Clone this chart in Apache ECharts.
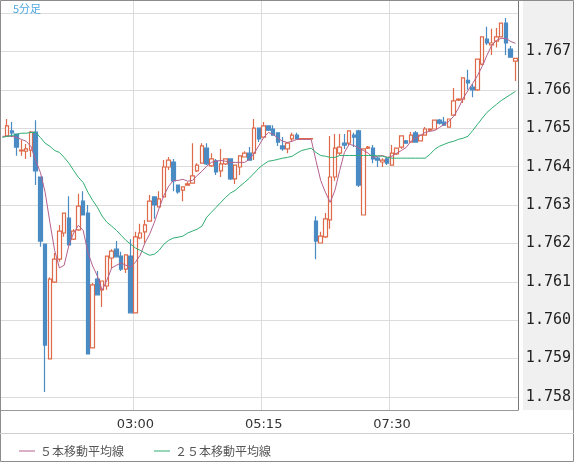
<!DOCTYPE html>
<html><head><meta charset="utf-8">
<script src="https://cdn.jsdelivr.net/npm/echarts@6/dist/echarts.min.js"></script>
<style>html,body{margin:0;padding:0;background:#fff}#c{width:574px;height:462px}</style>
</head><body><div id="c"></div>
<script>
const opens=[null,1.7648,1.76493,1.76485,1.76441,1.7644,1.76443,1.7649,1.76373,1.76198,1.75899,1.76099,1.76159,1.76227,1.76266,1.76211,1.76235,1.7631,1.76279,1.75928,1.76107,1.76079,1.76089,1.76162,1.76185,1.76167,1.76133,1.76167,1.76019,1.76214,1.7623,1.76258,1.76321,1.76295,1.76321,1.76399,1.76412,1.76352,1.76339,1.76352,1.76357,1.76389,1.76409,1.76448,1.76402,1.76415,1.76389,1.76407,1.7642,1.76368,1.76399,1.76425,1.76435,1.76435,1.765,1.76477,1.76506,1.76498,1.76488,1.76454,1.76446,1.76472,1.76482,1.76472,1.76472,1.76472,1.76258,1.76201,1.76217,1.76261,1.76373,1.76435,1.76461,1.76461,1.76482,1.76493,1.76274,1.76448,1.76448,1.76422,1.76412,1.7642,1.76404,1.76433,1.76451,1.76467,1.76464,1.76488,1.76467,1.76482,1.76495,1.76498,1.76521,1.76516,1.76503,1.76534,1.76573,1.76576,1.76625,1.76607,1.766,1.76667,1.76732,1.76717,1.76727,1.76738,1.76774,1.76706,1.76675];
const closes=[null,1.76506,1.76488,1.76451,1.76443,1.76446,1.7649,1.76389,1.76206,1.75935,1.76107,1.76159,1.76232,1.76279,1.76196,1.76232,1.76297,1.76274,1.75912,1.76092,1.76066,1.76102,1.76167,1.7618,1.76165,1.76133,1.7617,1.76019,1.76217,1.76227,1.76248,1.7631,1.763,1.76316,1.76399,1.76417,1.76363,1.76334,1.76347,1.76355,1.76376,1.76404,1.76454,1.76407,1.7642,1.76386,1.76407,1.7642,1.76368,1.76404,1.76428,1.76435,1.76417,1.765,1.76472,1.76506,1.76495,1.76482,1.76464,1.76446,1.76461,1.76482,1.76472,1.76473,1.76473,1.76473,1.76206,1.76219,1.76264,1.76373,1.76448,1.76451,1.76456,1.76493,1.76477,1.76352,1.76446,1.76451,1.7642,1.76417,1.76417,1.76409,1.76435,1.76448,1.7648,1.76461,1.76482,1.76464,1.76482,1.76498,1.76498,1.76521,1.76513,1.76508,1.76524,1.76571,1.76576,1.76631,1.76618,1.766,1.7668,1.76738,1.76722,1.76722,1.76738,1.76774,1.76722,1.76685,1.76682];
const lows=[null,1.7648,1.76477,1.76428,1.76428,1.7642,1.76425,1.76352,1.76191,1.75813,1.75899,1.76097,1.76152,1.76217,1.76196,1.76209,1.76232,1.76274,1.75912,1.75928,1.76066,1.76034,1.76079,1.76136,1.76165,1.76128,1.76123,1.76019,1.76019,1.76211,1.76201,1.76258,1.76264,1.76295,1.76321,1.76391,1.76336,1.76329,1.7631,1.7635,1.76357,1.76386,1.76409,1.76404,1.76399,1.76378,1.76373,1.76404,1.76365,1.76355,1.76378,1.76425,1.76415,1.76417,1.76464,1.76477,1.76493,1.76482,1.76454,1.76441,1.76435,1.76464,1.76472,1.76472,1.76472,1.76472,1.76159,1.76201,1.76214,1.76238,1.76363,1.7643,1.76446,1.76456,1.76451,1.76347,1.76274,1.76446,1.76409,1.76399,1.76399,1.76404,1.76404,1.7643,1.76446,1.76461,1.76464,1.76464,1.76467,1.76482,1.76493,1.76498,1.7651,1.76508,1.76503,1.76534,1.76571,1.76566,1.766,1.76581,1.76597,1.76664,1.76717,1.76691,1.7671,1.76738,1.76691,1.76685,1.76623];
const highs=[null,1.76524,1.76516,1.76485,1.76469,1.76459,1.76493,1.76521,1.76373,1.76198,1.76112,1.76175,1.76248,1.76279,1.76323,1.76237,1.76329,1.76336,1.763,1.76097,1.76128,1.76102,1.76167,1.76185,1.76206,1.76178,1.7617,1.76211,1.7623,1.76251,1.76261,1.76326,1.76321,1.76336,1.76417,1.76425,1.7642,1.76352,1.76347,1.7636,1.76461,1.76409,1.76461,1.76461,1.76435,1.7642,1.76446,1.7642,1.7642,1.76404,1.76428,1.7644,1.76451,1.76524,1.765,1.76516,1.76508,1.76508,1.76488,1.76477,1.76464,1.76488,1.76488,1.76473,1.76473,1.76473,1.76271,1.7623,1.76279,1.7648,1.76485,1.76485,1.76485,1.76493,1.76488,1.76496,1.76446,1.76454,1.76456,1.76425,1.76422,1.76425,1.76456,1.76448,1.76482,1.76469,1.7649,1.76493,1.76482,1.76503,1.765,1.76521,1.76524,1.76529,1.76524,1.76605,1.76578,1.76631,1.76652,1.76615,1.7668,1.76738,1.76764,1.76759,1.76761,1.76774,1.76787,1.76714,1.76682];
const ma5=[1.76479,1.76479,1.76479,1.76476,1.76471,1.76466,1.76453,1.76416,1.76385,1.76333,1.76255,1.76182,1.76136,1.76143,1.76195,1.76227,1.76247,1.76234,1.76177,1.76141,1.76115,1.76078,1.76104,1.76136,1.76143,1.76149,1.76143,1.76138,1.76151,1.76169,1.76201,1.76224,1.76255,1.76292,1.76325,1.76349,1.76364,1.76364,1.76367,1.76362,1.76364,1.76377,1.76388,1.76401,1.76411,1.76414,1.76416,1.76414,1.76411,1.76411,1.76411,1.76411,1.76419,1.76435,1.76455,1.76476,1.76489,1.76484,1.76474,1.76466,1.76463,1.76466,1.76471,1.76471,1.76471,1.76471,1.76416,1.76364,1.76333,1.76307,1.76338,1.7639,1.76437,1.76458,1.76455,1.76448,1.76442,1.76435,1.76424,1.76427,1.76429,1.76424,1.76427,1.76435,1.76442,1.7645,1.76466,1.76474,1.76481,1.76489,1.76492,1.76494,1.76502,1.7651,1.76518,1.76531,1.76552,1.76578,1.76598,1.76617,1.76637,1.76661,1.7669,1.76716,1.76729,1.76734,1.76734,1.76726,1.76721];
const ma25=[1.76476,1.76479,1.76481,1.76484,1.76487,1.76487,1.76489,1.76489,1.76476,1.76461,1.76453,1.76442,1.76437,1.76424,1.76409,1.7639,1.76372,1.76359,1.76333,1.76312,1.76294,1.76271,1.76255,1.76245,1.76234,1.76221,1.76208,1.76198,1.76188,1.76182,1.76175,1.76169,1.76172,1.76182,1.76198,1.76208,1.76214,1.76216,1.76219,1.76227,1.76232,1.76237,1.76245,1.76268,1.76281,1.76294,1.76307,1.7632,1.76331,1.76338,1.76349,1.76359,1.7637,1.76383,1.76396,1.76406,1.76414,1.76416,1.76419,1.76422,1.76424,1.76427,1.76435,1.76442,1.76445,1.76448,1.76437,1.76429,1.76427,1.76424,1.76424,1.76429,1.76429,1.76429,1.76429,1.76429,1.76429,1.76429,1.76429,1.76428,1.76427,1.76424,1.76422,1.76422,1.76422,1.76422,1.76422,1.76422,1.76422,1.76422,1.76432,1.76445,1.76453,1.76458,1.76463,1.76466,1.76471,1.76474,1.76479,1.76494,1.7651,1.76526,1.76541,1.76552,1.76562,1.76572,1.7658,1.76588,1.76596];
const startTime='00:40';
const tickStart=28, tickStep=27;
const yTicks=[1.758,1.759,1.760,1.761,1.762,1.763,1.764,1.765,1.766,1.767,1.768];
const yLabels=[1.758,1.759,1.760,1.761,1.762,1.763,1.764,1.765,1.766,1.767];

const cats=opens.map((_,i)=>{const m=40+5*i;const h=Math.floor(m/60),mm=m%60;return String(h).padStart(2,'0')+':'+String(mm).padStart(2,'0');});
const candle=opens.map((o,i)=>o==null?'-':[o,closes[i],lows[i],highs[i]]);
const showTick=(i)=>i>=tickStart&&(i-tickStart)%tickStep===0;

const chart=echarts.init(document.getElementById('c'));
chart.setOption({
  animation:false,backgroundColor:'#fff',
  graphic:[
    {type:'rect',z:-1,shape:{x:523,y:0,width:51,height:410},style:{fill:'#f0f0f0'}},
    {type:'rect',z:100,shape:{x:0.5,y:0.5,width:573,height:461},style:{fill:'none',stroke:'#8c8c8c',lineWidth:1}},
    {type:'line',z:100,shape:{x1:0,y1:433.5,x2:574,y2:433.5},style:{stroke:'#cfcfcf',lineWidth:1}},
    {type:'text',z:100,left:13,top:3,style:{text:'5分足',fill:'#4fa9e0',font:'11px "Noto Sans CJK JP"'}}
  ],
  grid:{left:0,right:51,top:0,bottom:52},
  xAxis:{type:'category',data:cats,boundaryGap:true,
    axisLine:{lineStyle:{color:'#999'}},axisTick:{show:false},
    axisLabel:{interval:(i)=>showTick(i),color:'#333',fontSize:13,fontFamily:'DejaVu Sans',margin:8},
    splitLine:{show:true,interval:(i)=>showTick(i),lineStyle:{color:'#dcdcdc'}}},
  yAxis:{type:'value',position:'right',min:1.75766,max:1.76834,scale:true,
    axisLine:{show:true,lineStyle:{color:'#777'}},
    axisTick:{show:false,customValues:yTicks},
    axisLabel:{customValues:yLabels,color:'#222',fontSize:15,fontFamily:'DejaVu Sans Mono',margin:8,formatter:(v)=>v.toFixed(3)},
    splitLine:{show:true,lineStyle:{color:'#dcdcdc'}}},
  legend:{left:14,top:440,itemGap:30,itemWidth:16,itemHeight:1,icon:'rect',
    textStyle:{color:'#555',fontSize:12,fontFamily:'Noto Sans CJK JP'},
    data:['５本移動平均線','２５本移動平均線']},
  series:[
    {type:'candlestick',name:'5分足',data:candle,barWidth:4,
     itemStyle:{color:'#ffffff',color0:'#4a8bc4',borderColor:'#de6a4a',borderColor0:'#4a8bc4',borderWidth:1.2}},
    {type:'line',name:'５本移動平均線',data:ma5,symbol:'none',lineStyle:{color:'#b4608c',width:1},itemStyle:{color:'#b4608c'}},
    {type:'line',name:'２５本移動平均線',data:ma25,symbol:'none',lineStyle:{color:'#2fae72',width:1},itemStyle:{color:'#2fae72'}}
  ]
});
</script></body></html>
